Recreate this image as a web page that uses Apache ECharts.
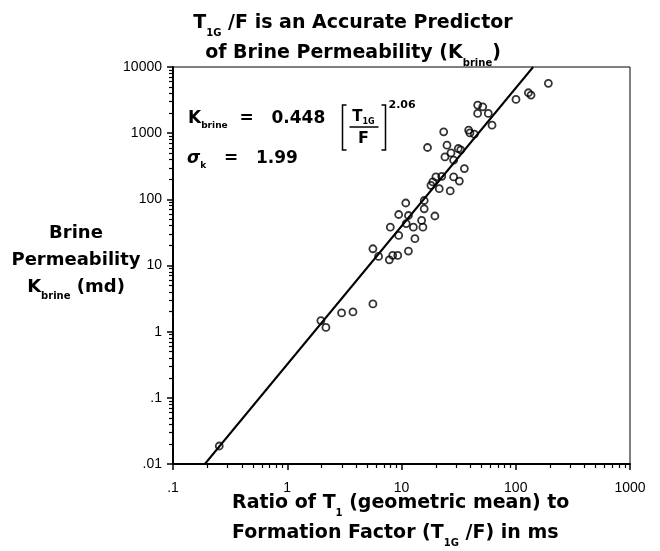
<!DOCTYPE html>
<html>
<head>
<meta charset="utf-8">
<script src="https://cdn.jsdelivr.net/npm/echarts@6/dist/echarts.min.js"></script>
<style>
  html, body { margin: 0; padding: 0; background: #fff; }
  #canva { width: 660px; height: 551px; }
</style>
</head>
<body>
<div id="canva"></div>
<script>
// ========== Data ==========
// T1G/F (ms) for each core sample
const ratioT1F = [0.254, 1.97, 2.18, 2.99, 3.76, 5.62, 5.62, 6.3, 7.82, 8.37, 9.27, 11.5,
    7.98, 9.45, 9.45, 10.9, 11.5, 11.0, 12.7, 13.1, 15.0, 15.4, 15.8, 15.8, 19.6,
    18.1, 18.8, 20, 21.4, 22.5, 26.7, 28.6, 32.1, 35.5, 28.6, 24, 27.1, 25, 31.4, 33,
    23.4, 16.9, 38.7, 39.7, 43.4, 62, 46.4, 51.4, 46.4, 57.5, 100.5, 129, 136, 193];
// brine permeability (md) for the same samples
const kBrine = [0.0187, 1.47, 1.16, 1.92, 1.99, 2.63, 17.9, 13.7, 12.2, 14.2, 14.2, 16.5,
    38, 28.5, 59, 88, 57, 43, 38, 25.4, 48, 38, 96, 72, 56,
    163, 183, 218, 145, 223, 134, 218, 189, 292, 390, 437, 503, 658, 586, 560,
    1047, 607, 1110, 1010, 966, 1322, 2656, 2504, 1987, 1987, 3240, 4080, 3765, 5660];
// end points of the fitted line as drawn
const fitX = [0.19, 142];
const fitY = [0.01, 10000];

// tick labels
const xTickLabels = ['.1', '1', '10', '100', '1000'];
const yTickLabels = ['.01', '.1', '1', '10', '100', '1000', '10000'];
const xDecades = [0.1, 1, 10, 100];
const yDecades = [0.01, 0.1, 1, 10, 100, 1000];
const minorSteps = [2, 3, 4, 5, 6, 7, 8, 9];

// minor ticks go on a plain value axis laid over the log one (log10 positions)
const xMinorTicks = [];
const yMinorTicks = [];
xDecades.forEach(d => minorSteps.forEach(m => xMinorTicks.push(Math.log10(d * m))));
yDecades.forEach(d => minorSteps.forEach(m => yMinorTicks.push(Math.log10(d * m))));

const points = ratioT1F.map((x, i) => [x, kBrine[i]]);
const fitLine = fitX.map((x, i) => [x, fitY[i]]);

// ========== Chart ==========
const FONT = 'DejaVu Sans';
const chart = echarts.init(document.getElementById('canva'));

const bold = (size, lh) => ({ fontFamily: FONT, fontWeight: 'bold', fontSize: size, lineHeight: lh, color: '#000' });
const sub = (size, lh) => ({ fontFamily: FONT, fontWeight: 'bold', fontSize: size, color: '#000', verticalAlign: 'bottom', lineHeight: lh });

function majorAxis(pos, min, max, labels, margin) {
    return {
        type: 'log', logBase: 10, min: min, max: max, position: pos,
        axisLine: { show: true, onZero: false, lineStyle: { color: '#000', width: 2 } },
        axisTick: { show: true, length: 6, lineStyle: { color: '#000', width: 1.5 } },
        axisLabel: {
            fontFamily: 'Liberation Sans', fontSize: 14, color: '#000', margin: margin,
            formatter: (v, i) => labels[i]
        },
        splitLine: { show: false }
    };
}
function minorAxis(pos, min, max, vals) {
    return {
        type: 'value', min: min, max: max, position: pos,
        axisLine: { show: false, onZero: false },
        axisTick: { show: true, length: 4, customValues: vals, lineStyle: { color: '#000', width: 1.2 } },
        axisLabel: { show: false },
        splitLine: { show: false }
    };
}

const option = {
    animation: false,
    backgroundColor: '#fff',
    title: {
        left: 348, top: 3, textAlign: 'center',
        text: '{a|T}{s|1G}{a| /F is an Accurate Predictor}\n{a|of Brine Permeability (K}{s|brine}{a|)}',
        textStyle: {
            rich: { a: bold(19, 30), s: sub(10, 19) }
        }
    },
    grid: {
        left: 173, right: 30, top: 67, bottom: 87,
        show: true, borderColor: '#000', borderWidth: 1
    },
    xAxis: [
        majorAxis('bottom', 0.1, 1000, xTickLabels, 17),
        minorAxis('bottom', -1, 3, xMinorTicks)
    ],
    yAxis: [
        majorAxis('left', 0.01, 10000, yTickLabels, 11),
        minorAxis('left', -2, 4, yMinorTicks)
    ],
    series: [
        {
            name: 'Fit', type: 'line', data: fitLine, symbol: 'none',
            lineStyle: { color: '#000', width: 2 }, z: 2
        },
        {
            name: 'Samples', type: 'scatter', data: points,
            symbol: 'circle', symbolSize: 7,
            itemStyle: { color: 'rgba(0,0,0,0)', borderColor: '#000', borderWidth: 1.8 },
            z: 3
        }
    ],
    graphic: [
        // y axis name
        {
            type: 'text', x: 76, y: 220,
            style: {
                text: '{a|Brine}\n{a|Permeability}\n{a|K}{s|brine}{a| (md)}',
                align: 'center',
                rich: { a: bold(18, 27), s: sub(10, 17) }
            }
        },
        // x axis name
        {
            type: 'text', left: 232, top: 494,
            style: {
                text: '{a|Ratio of T}{s|1}{a| (geometric mean) to}\n{a|Formation Factor (T}{s|1G}{a| /F) in ms}',
                rich: { a: bold(19, 30), s: sub(10, 19) }
            }
        },
        // regression equation
        {
            type: 'text', left: 188, top: 110,
            style: {
                text: '{a|K}{s|brine}{a|  =   0.448}',
                rich: { a: bold(17, 24), s: sub(9, 15) }
            }
        },
        {
            type: 'text', left: 187, top: 150,
            style: {
                text: '{g|σ}{s|k}{a|   =   1.99}',
                rich: {
                    a: bold(17, 24),
                    g: { fontFamily: FONT, fontStyle: 'italic', fontWeight: 'bold', fontSize: 17, lineHeight: 24, color: '#000' },
                    s: sub(9, 15)
                }
            }
        },
        {
            type: 'group', left: 340, top: 100,
            children: [
                { type: 'polyline', shape: { points: [[5, 3], [1, 3], [1, 48], [5, 48]] }, style: { stroke: '#000', lineWidth: 1.5, fill: null } },
                { type: 'polyline', shape: { points: [[40, 3], [44, 3], [44, 48], [40, 48]] }, style: { stroke: '#000', lineWidth: 1.5, fill: null } },
                { type: 'line', shape: { x1: 8, y1: 25, x2: 37, y2: 25 }, style: { stroke: '#000', lineWidth: 1.5 } },
                {
                    type: 'text', x: 22, y: 6,
                    style: {
                        text: '{a|T}{s|1G}', align: 'center',
                        rich: { a: bold(15, 18), s: sub(8, 12) }
                    }
                },
                { type: 'text', x: 22, y: 29, style: { text: 'F', align: 'center', font: 'bold 16px "DejaVu Sans"', fill: '#000' } },
                { type: 'text', x: 47, y: -2, style: { text: '2.06', font: 'bold 11px "DejaVu Sans"', fill: '#000' } }
            ]
        }
    ]
};
chart.setOption(option);
</script>
</body>
</html>
